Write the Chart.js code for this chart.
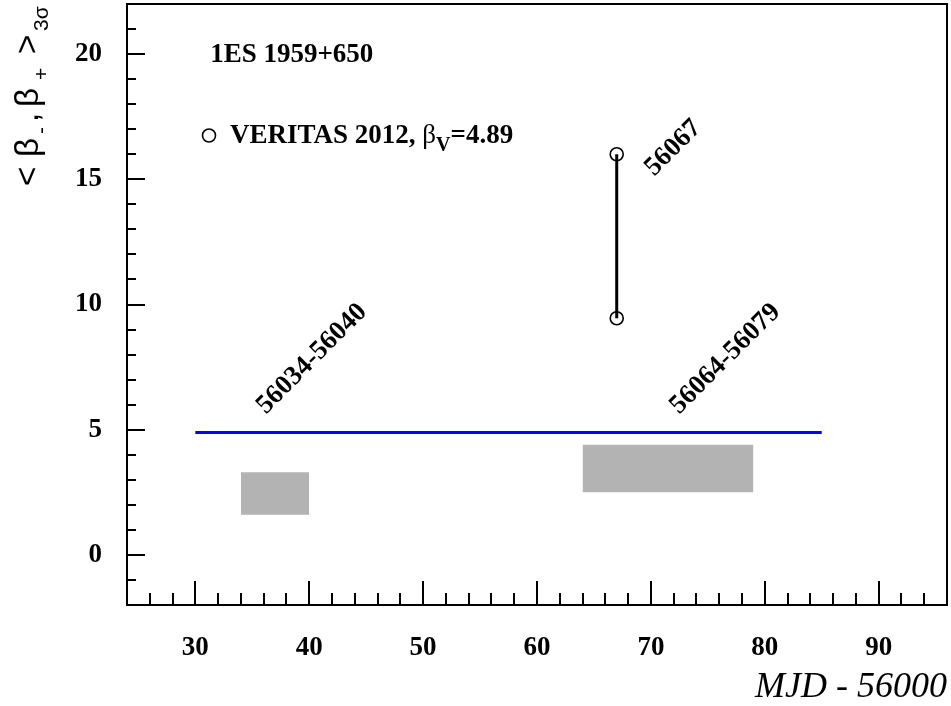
<!DOCTYPE html>
<html><head><meta charset="utf-8">
<script src="https://cdn.jsdelivr.net/npm/chart.js@4.4.1/dist/chart.umd.min.js"></script>
<style>html,body{margin:0;padding:0;background:#fff}canvas{display:block}</style>
</head><body>
<canvas id="c" width="951" height="706"></canvas>
<script>
// ---- axis ranges and ticks ----
const xRange = [24, 96];
const yRange = [-2, 22];
const xTickValues = [30, 40, 50, 60, 70, 80, 90];
const yTickValues = [0, 5, 10, 15, 20];
const xMinorStep = 2;
const yMinorStep = 1;

// ---- data ----
const veritasLineX = [30, 85];
const veritasLineY = [4.89, 4.89];
const flareX = [67, 67];
const flareY = [9.45, 16.0];
const box1X = [34, 40];
const box1Y = [1.6, 3.3];
const box2X = [64, 79];
const box2Y = [2.5, 4.4];
const legendMarkerX = [31.2];
const legendMarkerY = [16.75];

// ---- text annotations ----
const periodLabels = ['56034-56040', '56064-56079', '56067'];
const periodLabelX = [36.2, 72.5, 70.3];
const periodLabelY = [5.6, 5.6, 15.1];
const sourceName = '1ES 1959+650';
const sourceNameX = 31.3, sourceNameY = 19.67;
const legendTextX = 33.05, legendTextY = 16.43;
const xTitle = 'MJD - 56000';

const pts = (xs, ys) => xs.map((x, i) => ({x: x, y: ys[i]}));

const SERIF = '"Liberation Serif", "Times New Roman", serif';
const SANS = '"Liberation Sans", Arial, sans-serif';

const frameAndText = {
  id: 'frameAndText',
  afterDraw(chart) {
    const ctx = chart.ctx, a = chart.chartArea;
    const xs = chart.scales.x, ys = chart.scales.y;
    ctx.save();
    ctx.strokeStyle = '#000';
    ctx.lineWidth = 2;
    ctx.strokeRect(a.left, a.top, a.right - a.left, a.bottom - a.top);
    // inward ticks
    ctx.lineWidth = 2;
    ctx.beginPath();
    for (let v = xRange[0]; v <= xRange[1] + 1e-9; v += xMinorStep) {
      const px = Math.round(xs.getPixelForValue(v));
      const major = xTickValues.includes(v);
      ctx.moveTo(px, a.bottom);
      ctx.lineTo(px, a.bottom - (major ? 24 : 12));
    }
    for (let v = yRange[0]; v <= yRange[1] + 1e-9; v += yMinorStep) {
      const py = Math.round(ys.getPixelForValue(v));
      const major = yTickValues.includes(v);
      ctx.moveTo(a.left, py);
      ctx.lineTo(a.left + (major ? 18 : 9), py);
    }
    ctx.stroke();

    ctx.fillStyle = '#000';
    ctx.textBaseline = 'alphabetic';
    // source name
    ctx.font = 'bold 27px ' + SERIF;
    ctx.textAlign = 'left';
    ctx.fillText(sourceName, xs.getPixelForValue(sourceNameX), ys.getPixelForValue(sourceNameY));
    // legend text
    let lx = xs.getPixelForValue(legendTextX), ly = ys.getPixelForValue(legendTextY);
    ctx.font = 'bold 27px ' + SERIF;
    let s = 'VERITAS 2012, ';
    ctx.fillText(s, lx, ly); lx += ctx.measureText(s).width;
    ctx.font = '27px ' + SERIF;
    s = '\u03B2';
    ctx.fillText(s, lx, ly); lx += ctx.measureText(s).width;
    ctx.font = 'bold 20px ' + SERIF;
    s = 'V';
    ctx.fillText(s, lx, ly + 8); lx += ctx.measureText(s).width;
    ctx.font = 'bold 27px ' + SERIF;
    ctx.fillText('=4.89', lx, ly);
    // rotated period labels
    ctx.font = 'bold 27px ' + SERIF;
    periodLabels.forEach((t, i) => {
      ctx.save();
      ctx.translate(xs.getPixelForValue(periodLabelX[i]), ys.getPixelForValue(periodLabelY[i]));
      ctx.rotate(-Math.PI / 4);
      ctx.fillText(t, 0, 0);
      ctx.restore();
    });
    // x title
    ctx.font = 'italic 36px ' + SERIF;
    ctx.textAlign = 'right';
    ctx.fillText(xTitle, a.right, 697);
    // y title
    ctx.save();
    ctx.translate(38, 186);
    ctx.rotate(-Math.PI / 2);
    ctx.textAlign = 'left';
    const main = '33px ' + SANS, sub = '21px ' + SANS;
    const pieces = [['<', 0, main, 0], ['\u03B2', 29, main, 0], ['-', 52, sub, 10], [',', 64, main, 0],
                    ['\u03B2', 79, main, 0], ['+', 106, sub, 10], ['>', 132, main, 0], ['3\u03C3', 155, sub, 10]];
    pieces.forEach(p => { ctx.font = p[2]; ctx.fillText(p[0], p[1], p[3]); });
    ctx.restore();
    ctx.restore();
  }
};

const GRAY = 'rgb(179,179,179)';
new Chart(document.getElementById('c'), {
  type: 'line',
  data: {
    datasets: [
      {data: pts(box1X, [box1Y[0], box1Y[0]]), borderWidth: 0, pointRadius: 0, fill: false, order: 5},
      {data: pts(box1X, [box1Y[1], box1Y[1]]), borderWidth: 0, pointRadius: 0, fill: '-1', backgroundColor: GRAY, order: 5},
      {data: pts(box2X, [box2Y[0], box2Y[0]]), borderWidth: 0, pointRadius: 0, fill: false, order: 5},
      {data: pts(box2X, [box2Y[1], box2Y[1]]), borderWidth: 0, pointRadius: 0, fill: '-1', backgroundColor: GRAY, order: 5},
      {data: pts(veritasLineX, veritasLineY), borderColor: '#0000ff', borderWidth: 3, pointRadius: 0, fill: false, order: 2},
      {data: pts(flareX, flareY), borderColor: '#000', borderWidth: 3, pointRadius: 6.5, pointBorderWidth: 1.6,
       pointBorderColor: '#000', pointBackgroundColor: 'rgba(0,0,0,0)', fill: false, order: 1},
      {data: pts(legendMarkerX, legendMarkerY), showLine: false, pointRadius: 6.5, pointBorderWidth: 1.6,
       pointBorderColor: '#000', pointBackgroundColor: 'rgba(0,0,0,0)', fill: false, order: 1}
    ]
  },
  options: {
    responsive: false,
    animation: false,
    devicePixelRatio: 1,
    layout: {autoPadding: false, padding: {left: 0, top: 4, right: 4, bottom: 0}},
    elements: {line: {tension: 0}},
    plugins: {legend: {display: false}, tooltip: {enabled: false}},
    scales: {
      x: {
        type: 'linear', min: xRange[0], max: xRange[1],
        grid: {display: false, drawTicks: false},
        border: {display: false},
        afterBuildTicks: sc => { sc.ticks = xTickValues.map(v => ({value: v})); },
        afterFit: sc => { sc.height = 101; sc.paddingLeft = 0; sc.paddingRight = 0; },
        ticks: {color: '#000', padding: 27, maxRotation: 0, autoSkip: false,
                font: {family: SERIF, size: 27, weight: 'bold'}}
      },
      y: {
        type: 'linear', min: yRange[0], max: yRange[1],
        grid: {display: false, drawTicks: false},
        border: {display: false},
        afterBuildTicks: sc => { sc.ticks = yTickValues.map(v => ({value: v})); },
        afterFit: sc => { sc.width = 127; sc.paddingTop = 0; sc.paddingBottom = 0; },
        ticks: {color: '#000', padding: 25, autoSkip: false,
                font: {family: SERIF, size: 27, weight: 'bold'}}
      }
    }
  },
  plugins: [frameAndText]
});
</script>
</body></html>
